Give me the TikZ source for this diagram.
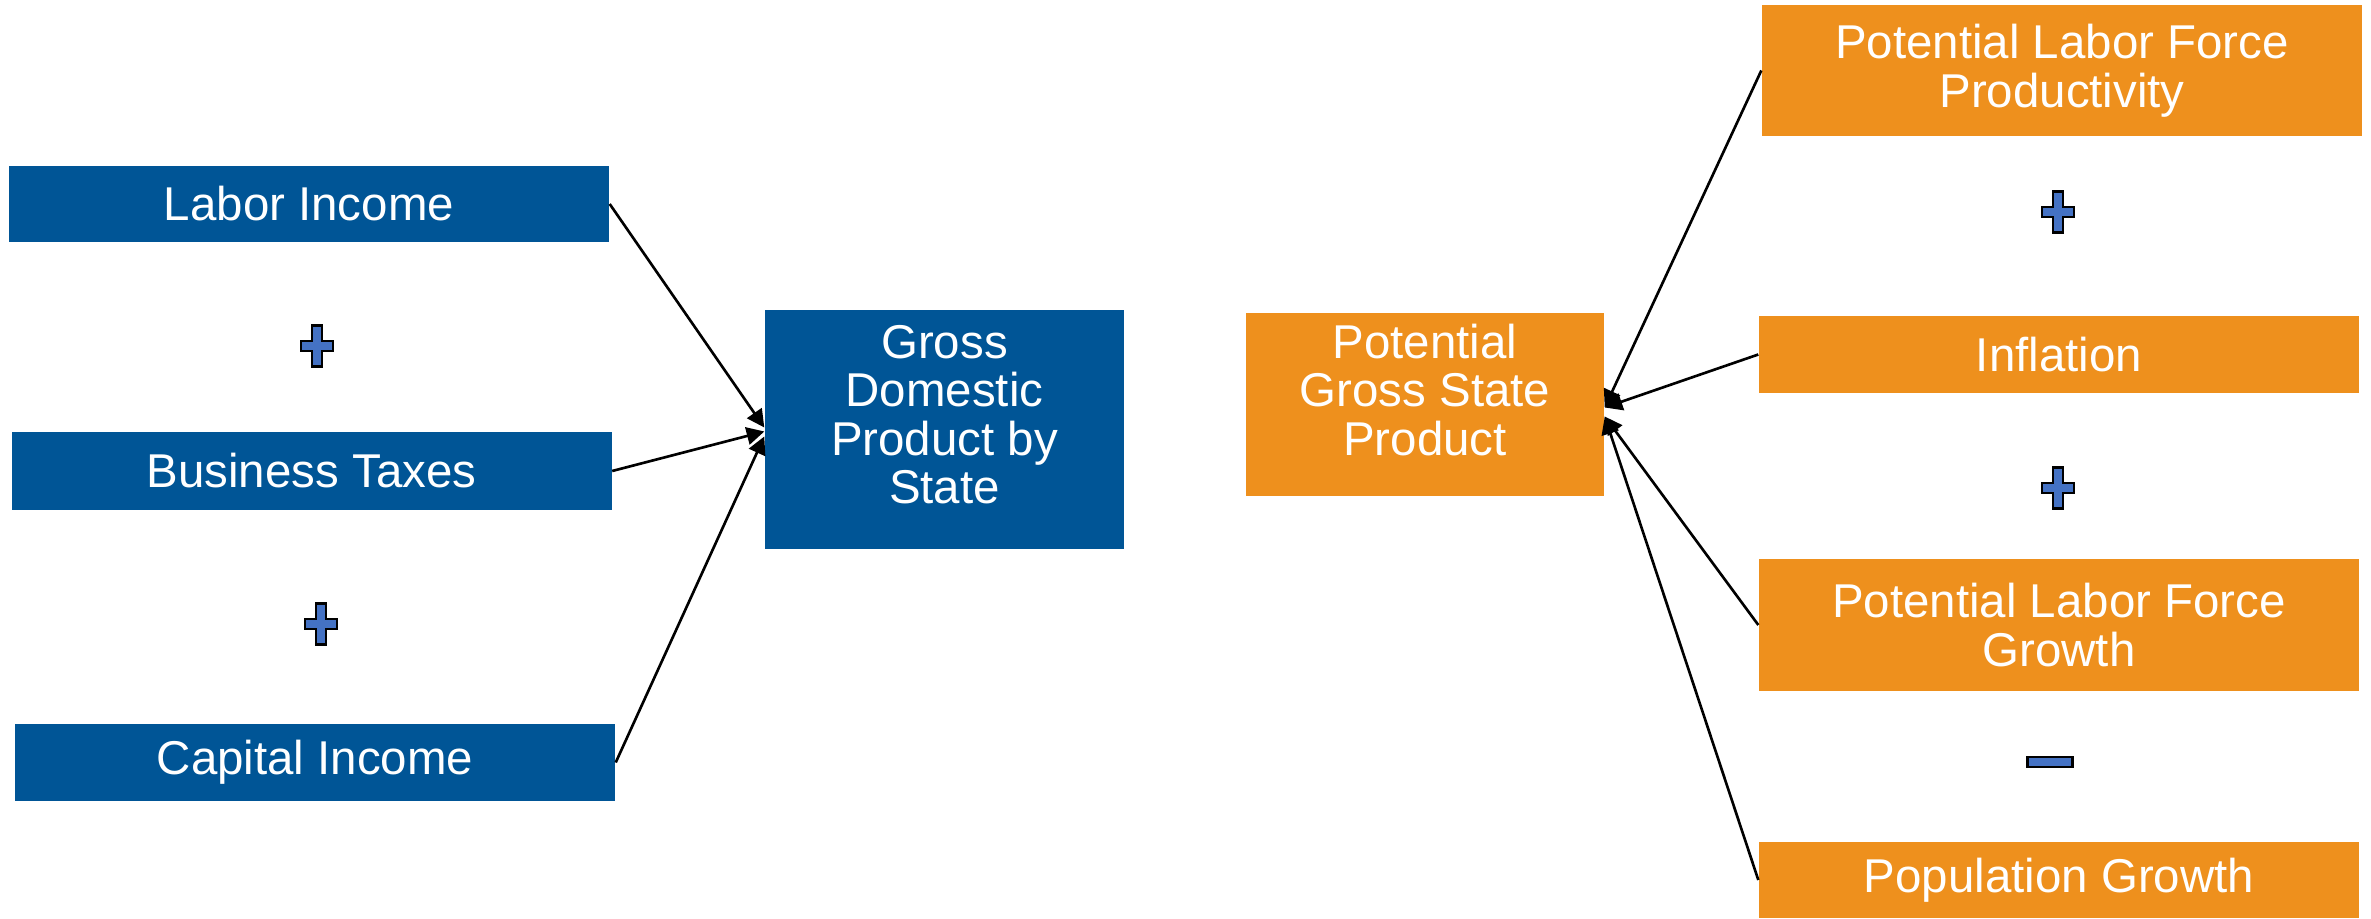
\documentclass[tikz,border=0pt]{standalone}
\usepackage{fontspec}
\setmainfont{Liberation Sans}
\definecolor{gdpblue}{HTML}{005596}
\definecolor{gsporange}{HTML}{EE901D}
\definecolor{signblue}{HTML}{4472C4}
\usetikzlibrary{arrows.meta,positioning}

\begin{document}
\begin{tikzpicture}[
  font=\fontsize{13.5}{13.8}\selectfont,
  blue/.style={fill=gdpblue,text=white,align=center,inner sep=0pt},
  orange/.style={fill=gsporange,text=white,align=center,inner sep=0pt},
  wide/.style={minimum width=6cm},
  arr/.style={-{Triangle[length=5pt,width=5pt]},black,line width=0.75pt},
  sign/.style={fill=signblue,draw=black,line width=0.8pt},
  plus/.pic={\path[sign] (-0.05,-0.205) -- (0.05,-0.205) -- (0.05,-0.05)
      -- (0.16,-0.05) -- (0.16,0.05) -- (0.05,0.05) -- (0.05,0.205)
      -- (-0.05,0.205) -- (-0.05,0.05) -- (-0.16,0.05) -- (-0.16,-0.05)
      -- (-0.05,-0.05) -- cycle;},
  minus/.pic={\path[sign] (-0.225,-0.05) rectangle (0.225,0.05);}
]
  \useasboundingbox (0,0) rectangle (23.71,9.18);
  % GDP side
  \node[blue,wide,minimum height=0.76cm] (labor)   at (3.09,7.14)  {Labor Income};
  \node[blue,wide,minimum height=0.78cm] (taxes)   at (3.115,4.47) {Business Taxes};
  \node[blue,wide,minimum height=0.77cm] (capital) at (3.15,1.555) {Capital Income};
  \node[blue,minimum width=3.59cm,minimum height=2.39cm] (gdp) at (9.445,4.885)
    {Gross\\Domestic\\Product by\\State\\[-5.3pt]\mbox{}};
  \pic at (3.17,5.72) {plus};
  \pic at (3.21,2.94) {plus};
  % GSP side
  \node[orange,minimum width=3.58cm,minimum height=1.83cm] (gsp) at (14.25,5.135)
    {Potential\\Gross State\\Product\\[-5.3pt]\mbox{}};
  \node[orange,wide,minimum height=1.31cm] (prod)  at (20.62,8.475)
    {Potential Labor Force\\Productivity};
  \node[orange,wide,minimum height=0.77cm] (infl)  at (20.59,5.635) {Inflation};
  \node[orange,wide,minimum height=1.32cm] (lfgrowth) at (20.59,2.93)
    {Potential Labor Force\\Growth};
  \node[orange,wide,minimum height=0.76cm] (popgrowth) at (20.59,0.38)
    {Population Growth};
  \pic at (20.58,7.06) {plus};
  \pic at (20.58,4.30) {plus};
  \pic at (20.50,1.56) {minus};
  % Arrows
  \draw[arr] (labor.east)   -- ([yshift=0.02cm]gdp.west);
  \draw[arr] (taxes.east)   -- ([yshift=-0.02cm]gdp.west);
  \draw[arr] (capital.east) -- ([yshift=-0.07cm]gdp.west);
  \draw[arr] (prod.west)      -- ([yshift=-0.03cm]gsp.east);
  \draw[arr] (infl.west)      -- ([yshift=-0.03cm]gsp.east);
  \draw[arr] (lfgrowth.west)  -- ([yshift=-0.12cm]gsp.east);
  \draw[arr] (popgrowth.west) -- ([yshift=-0.12cm]gsp.east);
\end{tikzpicture}
\end{document}
